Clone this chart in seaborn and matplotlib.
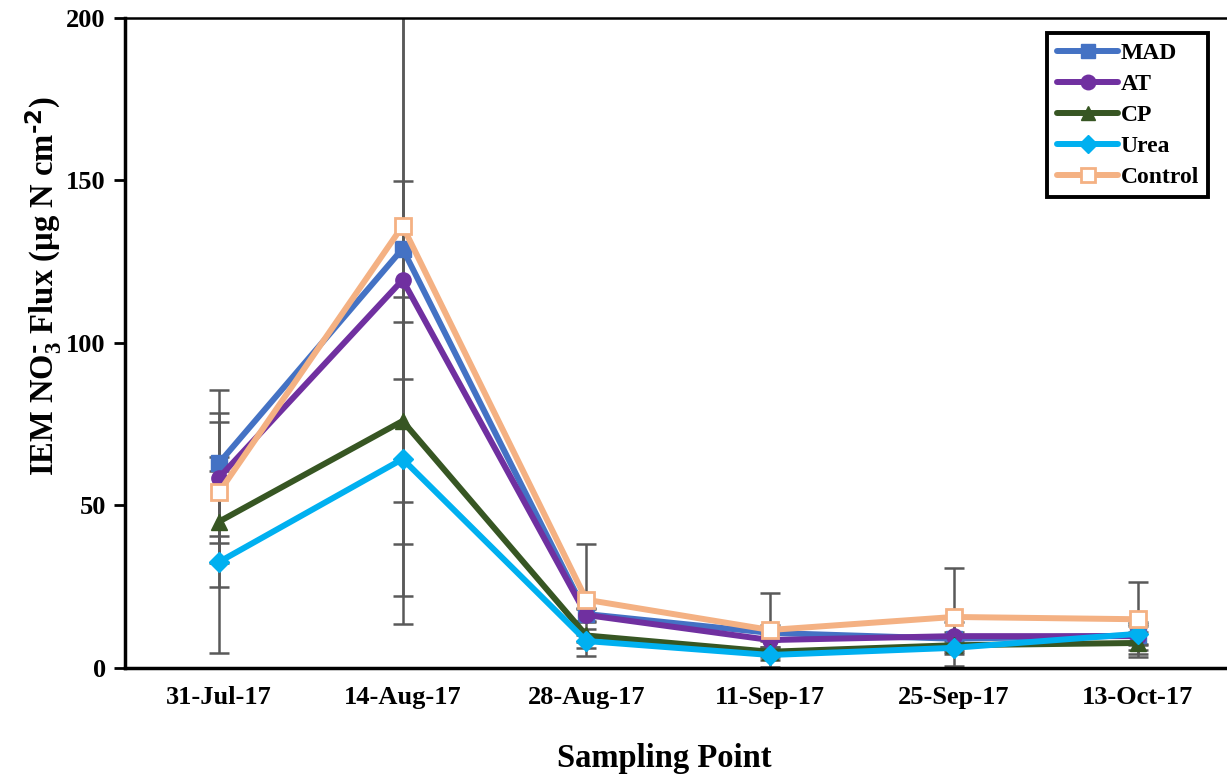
import numpy as np
import pandas as pd
import matplotlib
matplotlib.use("Agg")
import matplotlib.pyplot as plt
import seaborn as sns

dates = ["31-Jul-17", "14-Aug-17", "28-Aug-17", "11-Sep-17", "25-Sep-17", "13-Oct-17"]
series = ["MAD", "AT", "CP", "Urea", "Control"]

mad = [63.0, 129.0, 16.6, 10.8, 9.0, 10.0]
at = [58.5, 119.4, 16.3, 8.6, 9.8, 9.8]
cp = [45.0, 76.0, 10.0, 5.0, 7.0, 7.7]
urea = [32.6, 64.3, 8.3, 4.0, 6.2, 10.5]
control = [54.0, 136.0, 21.0, 11.7, 15.7, 15.0]

mad_err = [22.5, 115.5, 2.0, 2.5, 2.0, 3.0]
at_err = [20.0, 30.5, 2.0, 2.0, 4.4, 4.4]
cp_err = [20.0, 38.0, 2.0, 1.5, 2.0, 3.5]
urea_err = [28.0, 42.3, 2.0, 1.5, 2.0, 3.0]
control_err = [21.7, 85.0, 17.3, 11.3, 15.0, 11.5]

values = {"MAD": mad, "AT": at, "CP": cp, "Urea": urea, "Control": control}
errors = {"MAD": mad_err, "AT": at_err, "CP": cp_err, "Urea": urea_err, "Control": control_err}
colors = {"MAD": "#4472C4", "AT": "#7030A0", "CP": "#375623", "Urea": "#00B0F0", "Control": "#F4B183"}
markers = {"MAD": "s", "AT": "o", "CP": "^", "Urea": "D", "Control": "s"}

sns.set_style("white")
plt.rcParams["font.family"] = ["Liberation Serif", "DejaVu Serif"]
plt.rcParams["font.weight"] = "bold"
plt.rcParams["mathtext.default"] = "regular"
for key in ["text.color", "axes.labelcolor", "xtick.color", "ytick.color"]:
    plt.rcParams[key] = "black"

fig = plt.figure(figsize=(12.27, 7.78), dpi=100)
ax = fig.add_axes([0.102, 0.1414, 0.897, 0.8355])

xpos = np.arange(len(dates))
rows = []
for s in series:
    for i, d in enumerate(dates):
        rows.append({"x": xpos[i], "Date": d, "Series": s, "Value": values[s][i], "Err": errors[s][i]})
df = pd.DataFrame(rows)

for k, s in enumerate(series):
    sub = df[df["Series"] == s]
    ax.errorbar(sub["x"], sub["Value"], yerr=sub["Err"], fmt="none", ecolor="#595959",
                elinewidth=1.8, capsize=7, capthick=1.8, zorder=1)

for k, s in enumerate(series):
    sub = df[df["Series"] == s]
    mfc = "white" if s == "Control" else colors[s]
    ms = 11 if s != "Urea" else 10
    sns.lineplot(data=sub, x="x", y="Value", ax=ax, color=colors[s], marker=markers[s],
                 markersize=ms, markerfacecolor=mfc, markeredgecolor=colors[s],
                 markeredgewidth=2 if s == "Control" else 1, linewidth=4.3,
                 label=s, zorder=3 + k, errorbar=None)

ax.set_xlim(-0.51, 5.48)
ax.set_ylim(0, 200)
ax.set_yticks([0, 50, 100, 150, 200])
ax.set_xticks(xpos)
ax.set_xticklabels(dates)
ax.tick_params(axis="x", length=0, pad=13, labelsize=19)
ax.tick_params(axis="y", direction="out", length=8, width=2, color="black", labelsize=19, left=True, pad=6)
for lab in ax.get_xticklabels() + ax.get_yticklabels():
    lab.set_fontweight("bold")

for side in ["left", "bottom"]:
    ax.spines[side].set_color("black")
    ax.spines[side].set_linewidth(2.5)
ax.spines["top"].set_color("black")
ax.spines["top"].set_linewidth(1.8)
ax.spines["right"].set_visible(False)

ax.set_xlabel("Sampling Point", fontsize=23.5, fontweight="bold", labelpad=22)
ax.xaxis.set_label_coords(0.49, -0.115)
ax.set_ylabel(r"IEM NO$_3^\text{-}$ Flux (µg N cm$^\text{-2}$)", fontsize=23.5, fontweight="bold")
ax.yaxis.set_label_coords(-0.056, 0.588)

leg = ax.legend(loc="upper right", bbox_to_anchor=(0.995, 0.995), frameon=True, fancybox=False,
                edgecolor="black", prop={"family": "Liberation Serif", "weight": "bold", "size": 17},
                handlelength=2.6, handletextpad=0.1, labelspacing=0.4, borderpad=0.4,
                markerscale=0.95, framealpha=1)
leg.get_frame().set_linewidth(2.8)
leg.get_frame().set_edgecolor("black")

fig.savefig("out.png", dpi=100)
